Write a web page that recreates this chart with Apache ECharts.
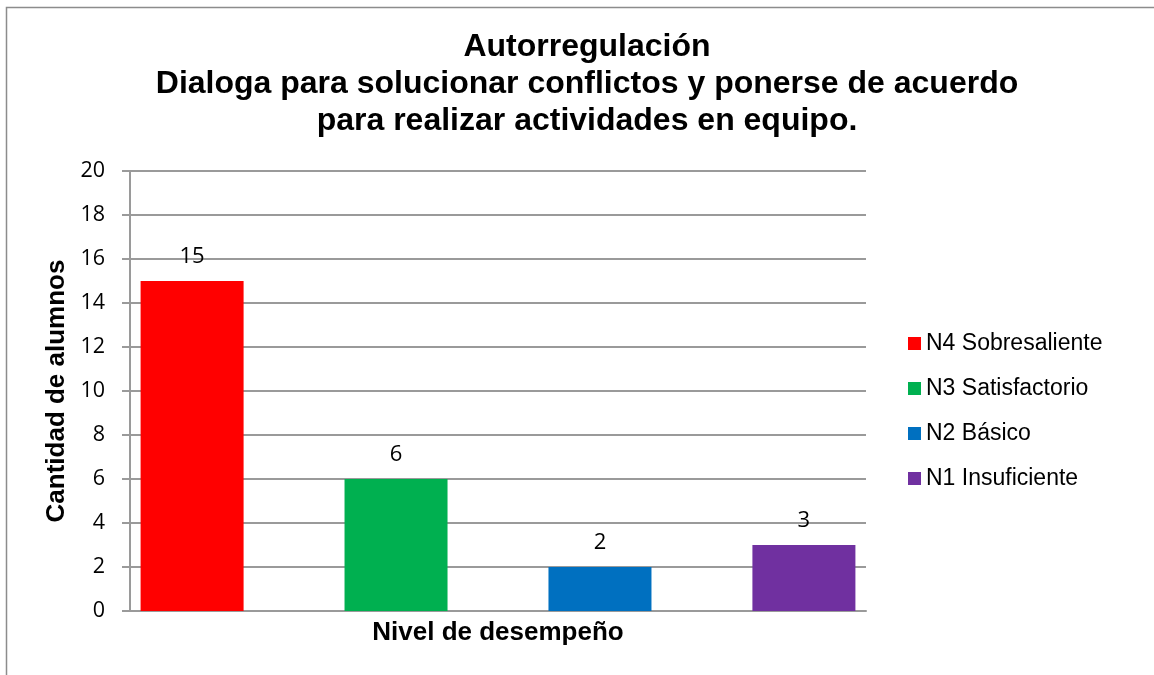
<!DOCTYPE html>
<html>
<head>
<meta charset="utf-8">
<script src="https://cdn.jsdelivr.net/npm/echarts@6/dist/echarts.min.js"></script>
<style>
  html, body { margin: 0; padding: 0; background: #fff; }
  #chart { width: 1154px; height: 675px; }
</style>
</head>
<body>
<div id="chart"></div>
<script>
const titleLines = [
  'Autorregulación',
  'Dialoga para solucionar conflictos y ponerse de acuerdo',
  'para realizar actividades en equipo.'
];
const categories = [''];
const seriesNames = ['N4 Sobresaliente', 'N3 Satisfactorio', 'N2 Básico', 'N1 Insuficiente'];
const seriesValues = [15, 6, 2, 3];
const seriesColors = ['#ff0000', '#00b050', '#0070c0', '#7030a0'];
const yTicks = { min: 0, max: 20, interval: 2 };

const chart = echarts.init(document.getElementById('chart'));
const gridColor = '#9a9a9a';

const series = seriesNames.map((name, i) => ({
  name: name,
  type: 'bar',
  data: [seriesValues[i]],
  barWidth: 103,
  barGap: '98%',
  itemStyle: { color: seriesColors[i] },
  label: {
    show: true,
    position: 'top',
    distance: 13,
    color: '#000',
    fontSize: 22,
    fontFamily: 'Open Sans'
  }
}));

const option = {
  animation: false,
  backgroundColor: '#fff',
  title: {
    text: titleLines.join('\n'),
    left: 582,
    textAlign: 'center',
    top: 24,
    textStyle: {
      fontFamily: 'Liberation Sans',
      fontWeight: 'bold',
      fontSize: 32,
      lineHeight: 37,
      color: '#000'
    }
  },
  legend: {
    orient: 'vertical',
    left: 903,
    top: 327,
    itemWidth: 13,
    itemHeight: 13,
    itemGap: 25,
    icon: 'rect',
    textStyle: { fontFamily: 'Liberation Sans', fontSize: 23, lineHeight: 20, color: '#000' },
    data: seriesNames
  },
  grid: { left: 130, right: 288, top: 171, bottom: 64 },
  xAxis: {
    type: 'category',
    data: categories,
    name: 'Nivel de desempeño',
    nameLocation: 'middle',
    nameGap: 9,
    nameTextStyle: { fontFamily: 'Liberation Sans', fontWeight: 'bold', fontSize: 26, color: '#000' },
    axisLine: { lineStyle: { color: gridColor, width: 2 } },
    axisTick: { show: false },
    axisLabel: { show: false }
  },
  yAxis: {
    type: 'value',
    min: yTicks.min,
    max: yTicks.max,
    interval: yTicks.interval,
    name: 'Cantidad de alumnos',
    nameLocation: 'middle',
    nameGap: 58,
    nameTextStyle: { fontFamily: 'Liberation Sans', fontWeight: 'bold', fontSize: 26, color: '#000' },
    axisLine: { show: true, lineStyle: { color: gridColor, width: 2 } },
    axisTick: { show: true, length: 8, lineStyle: { color: gridColor, width: 2 } },
    axisLabel: { margin: 25, fontSize: 21.5, fontFamily: 'Open Sans', color: '#000' },
    splitLine: { lineStyle: { color: gridColor, width: 2 } }
  },
  graphic: [{
    type: 'rect',
    shape: { x: 6.5, y: 7.5, width: 1300, height: 800 },
    style: { fill: 'none', stroke: '#8c8c8c', lineWidth: 1.5 },
    silent: true
  }],
  series: series
};

option.legend.itemGap = 22;
chart.setOption(option);
</script>
</body>
</html>
